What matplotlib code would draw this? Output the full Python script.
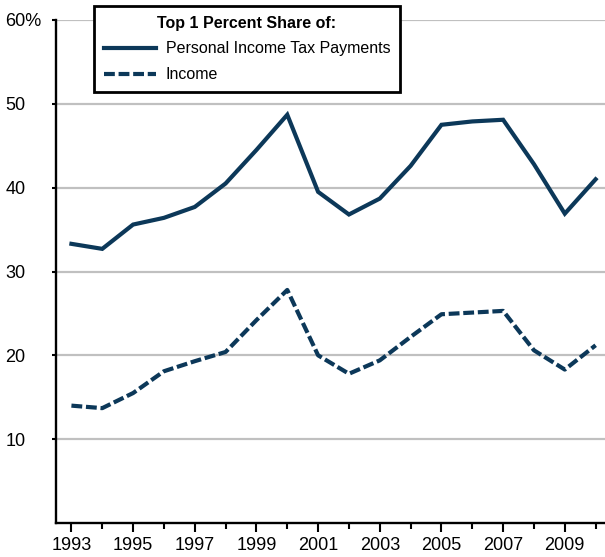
import matplotlib
matplotlib.use("Agg")
import matplotlib.pyplot as plt
from matplotlib.ticker import FixedLocator

years = list(range(1993, 2011))
tax_payments = [33.3, 32.7, 35.6, 36.4, 37.7, 40.5, 44.5, 48.7, 39.5, 36.8,
                38.7, 42.6, 47.5, 47.9, 48.1, 42.8, 36.9, 41.0]
income = [14.0, 13.7, 15.5, 18.1, 19.3, 20.4, 24.2, 27.8, 20.0, 17.8,
          19.4, 22.2, 24.9, 25.1, 25.3, 20.6, 18.3, 21.2]
y_ticks = [10, 20, 30, 40, 50, 60]
y_labels = ["10", "20", "30", "40", "50", "60%"]
x_major = list(range(1993, 2011, 2))
x_minor = list(range(1994, 2011, 2))

plt.rcParams['font.family'] = ['Liberation Sans', 'DejaVu Sans']
navy = "#0c3859"

fig = plt.figure(figsize=(6.05, 5.57), dpi=100)
ax_w = 1 - 56/605 + 0.01
ax = fig.add_axes([56/605, 1 - 523/557, ax_w, (523 - 20)/557])

ax.plot(years, tax_payments, color=navy, lw=3.0, solid_joinstyle='miter',
        label="Personal Income Tax Payments")
ax.plot(years, income, color=navy, lw=3.0, linestyle=(0, (2.6, 0.9)),
        dash_capstyle='butt', label="Income")

ax.set_xlim(1992.5, 2010.5)
ax.set_ylim(0, 60)
ax.set_yticks(y_ticks)
ax.set_yticklabels(y_labels)
ax.xaxis.set_major_locator(FixedLocator(x_major))
ax.xaxis.set_minor_locator(FixedLocator(x_minor))
ax.set_xticklabels([str(y) for y in x_major])

ax.grid(axis='y', color='#c0c0c0', lw=1.6)
ax.set_axisbelow(True)
for s in ['top', 'right']:
    ax.spines[s].set_visible(False)
for s in ['left', 'bottom']:
    ax.spines[s].set_linewidth(1.7)
    ax.spines[s].set_color('black')

ax.tick_params(axis='x', which='major', length=6.5, width=1.5, pad=3.5,
               labelsize=13, direction='out')
ax.tick_params(axis='x', which='minor', length=4.3, width=1.5, direction='out')
ax.tick_params(axis='y', length=3, width=1.5, pad=33.5, labelsize=13, direction='out')
for lbl in ax.get_yticklabels():
    lbl.set_horizontalalignment('left')

leg = fig.legend(loc='upper left', bbox_to_anchor=(94/605, 1 - 6/557),
                 title="Top 1 Percent Share of:", frameon=True, fancybox=False,
                 edgecolor='black', fontsize=11.5, handlelength=3.3,
                 handletextpad=0.6, borderpad=0.6, labelspacing=0.68,
                 borderaxespad=0)
leg.get_title().set_fontweight('bold')
leg.get_title().set_fontsize(11.5)
leg.get_frame().set_linewidth(2.0)
leg.get_frame().set_alpha(1)

fig.savefig("out.png", dpi=100)
